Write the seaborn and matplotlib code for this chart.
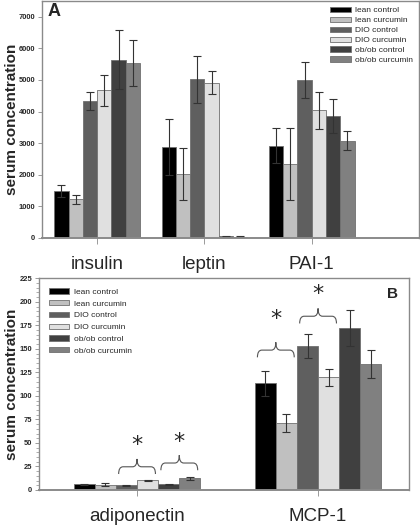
import pandas as pd
import matplotlib
matplotlib.use('Agg')
import matplotlib.pyplot as plt
from matplotlib.patches import Patch, PathPatch
from matplotlib.path import Path
import seaborn as sns

groups = ['lean control', 'lean curcumin', 'DIO control', 'DIO curcumin',
          'ob/ob control', 'ob/ob curcumin']
colors = ['#000000', '#c0c0c0', '#5f5f5f', '#e0e0e0', '#404040', '#808080']

# panel A
markers_a = ['insulin', 'leptin', 'PAI-1']
insulin_mean = [1490, 1220, 4330, 4680, 5640, 5550]
insulin_err = [200, 150, 290, 490, 930, 730]
leptin_mean = [2880, 2030, 5020, 4920, 50, 40]
leptin_err = [880, 820, 750, 350, 10, 10]
pai1_mean = [2920, 2340, 5000, 4040, 3850, 3080]
pai1_err = [560, 1130, 560, 580, 540, 300]

# panel B
markers_b = ['adiponectin', 'MCP-1']
adipo_mean = [6.2, 5.5, 5.0, 10.5, 6.0, 12.4]
adipo_err = [0.5, 1.5, 0.5, 0.5, 0.5, 1.5]
mcp1_mean = [113.4, 71.0, 153.3, 119.8, 172.2, 134.2]
mcp1_err = [13, 9.5, 12.5, 9, 19, 15]

# significance brackets in panel B: (marker, group pair, brace base, star level)
sig_marker = ['adiponectin', 'adiponectin', 'MCP-1', 'MCP-1']
sig_pair = [(2, 3), (4, 5), (0, 1), (2, 3)]
sig_base = [17, 21, 141, 177]
sig_star = [48, 51, 182, 208]

GRAY = '#8a8a8a'


def long_frame(markers, means, errs):
    rows = []
    for m, vals, es in zip(markers, means, errs):
        for g, v, e in zip(groups, vals, es):
            rows.append({'marker': m, 'group': g, 'value': v, 'err': e})
    return pd.DataFrame(rows)


def draw_panel(ax, df, width, label_x):
    sns.barplot(data=df, x='marker', y='value', hue='group', hue_order=groups,
                palette=colors, saturation=1, width=width, gap=0, errorbar=None,
                edgecolor='#707070', linewidth=0.6, legend=False, ax=ax)
    for bars, g in zip(ax.containers, groups):
        sub = df[df['group'] == g]
        xs = [b.get_x() + b.get_width() / 2 for b in bars]
        ax.errorbar(xs, sub['value'], yerr=sub['err'], fmt='none',
                    ecolor='#333333', elinewidth=0.8, capsize=3, capthick=0.8)
    for s in ax.spines.values():
        s.set_color(GRAY)
        s.set_linewidth(1.0)
    ax.spines['bottom'].set_linewidth(1.4)
    ax.tick_params(axis='y', length=3, width=0.6, color=GRAY, pad=2,
                   labelsize=5.4)
    ax.tick_params(axis='x', length=4, width=0.6, color=GRAY, pad=9,
                   labelsize=13.5)
    for t in ax.get_yticklabels():
        t.set_fontweight('bold')
    ax.set_xlabel('')
    ax.set_ylabel('serum concentration', fontsize=11, fontweight='bold')
    ax.yaxis.set_label_coords(label_x, 0.5)
    handles = [Patch(facecolor=c, edgecolor='#707070', linewidth=0.6, label=g)
               for c, g in zip(colors, groups)]
    return handles


def brace(ax, x0, x1, y0, h):
    xc = (x0 + x1) / 2
    dx = (x1 - x0) * 0.12
    ym = y0 + h * 0.48
    yt = y0 + h
    verts = [(x0, y0), (x0, ym), (x0 + dx, ym), (xc - dx, ym), (xc, ym), (xc, yt),
             (xc, ym), (xc + dx, ym), (x1 - dx, ym), (x1, ym), (x1, y0)]
    codes = [Path.MOVETO, Path.CURVE3, Path.CURVE3, Path.LINETO, Path.CURVE3,
             Path.CURVE3, Path.CURVE3, Path.CURVE3, Path.LINETO, Path.CURVE3,
             Path.CURVE3]
    ax.add_patch(PathPatch(Path(verts, codes), facecolor='none',
                           edgecolor='#555555', linewidth=0.8))
    return xc, yt


sns.set_style('ticks')
plt.rcParams['font.family'] = ['Liberation Sans', 'DejaVu Sans']

fig = plt.figure(figsize=(4.2, 5.25), dpi=100)
ax_a = fig.add_axes([42 / 420, 1 - 238 / 525, 377 / 420, 237 / 525])
ax_b = fig.add_axes([39.3 / 420, 1 - 490 / 525, 370 / 420, 211.7 / 525])

# ---- panel A
df_a = long_frame(markers_a, [insulin_mean, leptin_mean, pai1_mean],
                  [insulin_err, leptin_err, pai1_err])
handles = draw_panel(ax_a, df_a, 0.8, -0.061)
ax_a.set_xlim(-0.514, 3.0)
ax_a.set_ylim(0, 7500)
ax_a.set_yticks(range(0, 7001, 1000))
ax_a.legend(handles=handles, loc='upper right', frameon=False, fontsize=6,
            handlelength=2.5, handleheight=0.6, handletextpad=0.5,
            labelspacing=0.28, borderpad=0.3, borderaxespad=0.4)
ax_a.text(0.015, 0.99, 'A', transform=ax_a.transAxes, ha='left', va='top',
          fontsize=13, fontweight='bold')

# ---- panel B
df_b = long_frame(markers_b, [adipo_mean, mcp1_mean], [adipo_err, mcp1_err])
handles = draw_panel(ax_b, df_b, 0.7, -0.055)
ax_b.set_xlim(-0.54, 1.504)
ax_b.set_ylim(0, 225)
ax_b.set_yticks(range(0, 226, 25))
ax_b.set_yticks(range(0, 226, 5), minor=True)
ax_b.tick_params(axis='y', which='minor', length=2, width=0.5, color=GRAY)
ax_b.legend(handles=handles, loc='upper left', frameon=False, fontsize=6,
            handlelength=2.4, handleheight=0.6, handletextpad=0.6,
            labelspacing=0.5, borderpad=0.3, borderaxespad=0.9)
ax_b.text(0.939, 0.96, 'B', transform=ax_b.transAxes, ha='left', va='top',
          fontsize=11, fontweight='bold')

for m, (i, j), base, star in zip(sig_marker, sig_pair, sig_base, sig_star):
    k = markers_b.index(m)
    left = ax_b.containers[i][k]
    right = ax_b.containers[j][k]
    x0 = left.get_x() + 0.015
    x1 = right.get_x() + right.get_width() - 0.015
    xc, _ = brace(ax_b, x0, x1, base, 16)
    ax_b.text(xc, star, '*', ha='center', va='center', fontsize=16,
              family='DejaVu Sans')

fig.savefig('out.png', dpi=100)
